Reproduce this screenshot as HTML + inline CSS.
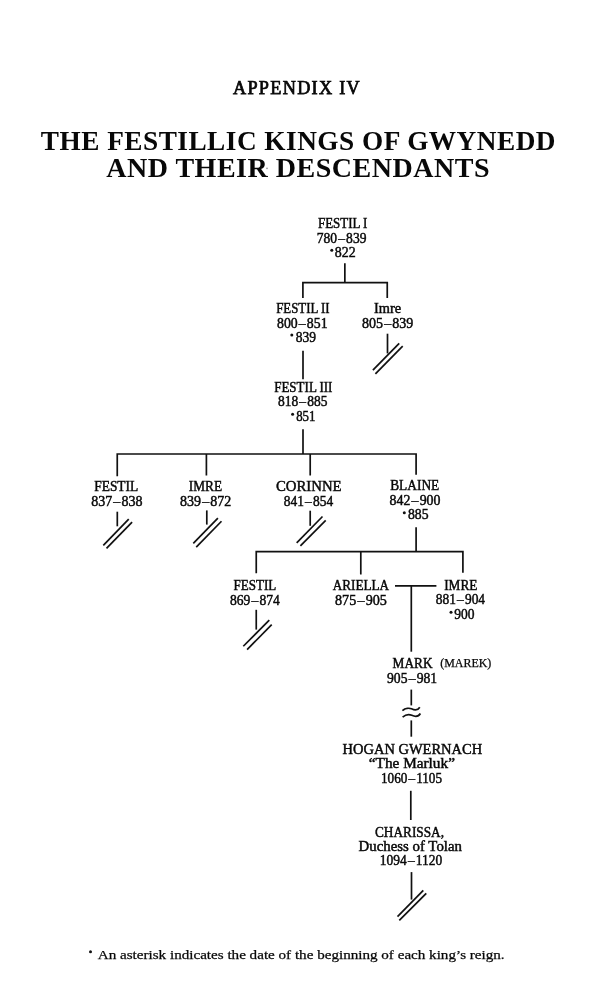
<!DOCTYPE html><html><head><meta charset="utf-8"><style>html,body{margin:0;padding:0;background:#fff;width:600px;height:992px;overflow:hidden}svg{display:block;will-change:transform}text{font-family:"Liberation Serif",serif;fill:#080808}.tr{stroke:#080808;stroke-width:0.4px}.td{stroke-width:0.45px}.tl{stroke:#080808;stroke-width:0.25px}.hd{letter-spacing:0.5px}.ap{stroke:#080808;stroke-width:0.75px;letter-spacing:1.3px}</style></head><body>
<svg width="600" height="992" viewBox="0 0 600 992">
<text id="t_app" class="hd ap" x="233.00" y="93.60" font-size="18.5" font-weight="normal" textLength="128.03" lengthAdjust="spacingAndGlyphs">APPENDIX IV</text>
<text id="t_h1" class="hd" x="40.80" y="150.00" font-size="28" font-weight="bold" textLength="515.23" lengthAdjust="spacingAndGlyphs">THE FESTILLIC KINGS OF GWYNEDD</text>
<text id="t_h2" class="hd" x="106.20" y="177.20" font-size="28" font-weight="bold" textLength="383.84" lengthAdjust="spacingAndGlyphs">AND THEIR DESCENDANTS</text>
<text id="n1a" class="tr td" x="318.00" y="228.00" font-size="14" font-weight="normal" textLength="49.37" lengthAdjust="spacingAndGlyphs">FESTIL I</text>
<text id="n1b" class="tr td" x="316.80" y="242.60" font-size="14" font-weight="normal" textLength="49.62" lengthAdjust="spacingAndGlyphs">780 – 839</text>
<text id="n1c" class="tr td" x="334.80" y="257.00" font-size="14" font-weight="normal" textLength="20.87" lengthAdjust="spacingAndGlyphs">822</text>
<text id="n2a" class="tr td" x="276.20" y="313.30" font-size="14" font-weight="normal" textLength="53.28" lengthAdjust="spacingAndGlyphs">FESTIL II</text>
<text id="n2b" class="tr td" x="277.00" y="327.50" font-size="14" font-weight="normal" textLength="50.54" lengthAdjust="spacingAndGlyphs">800 – 851</text>
<text id="n2c" class="tr td" x="295.80" y="341.70" font-size="14" font-weight="normal" textLength="20.30" lengthAdjust="spacingAndGlyphs">839</text>
<text id="n3a" class="tr td" x="374.00" y="313.00" font-size="14" font-weight="normal" textLength="27.16" lengthAdjust="spacingAndGlyphs">Imre</text>
<text id="n3b" class="tr td" x="362.00" y="327.60" font-size="14" font-weight="normal" textLength="51.36" lengthAdjust="spacingAndGlyphs">805 – 839</text>
<text id="n4a" class="tr td" x="274.20" y="391.70" font-size="14" font-weight="normal" textLength="58.26" lengthAdjust="spacingAndGlyphs">FESTIL III</text>
<text id="n4b" class="tr td" x="278.00" y="406.30" font-size="14" font-weight="normal" textLength="49.37" lengthAdjust="spacingAndGlyphs">818 – 885</text>
<text id="n4c" class="tr td" x="296.20" y="420.80" font-size="14" font-weight="normal" textLength="19.30" lengthAdjust="spacingAndGlyphs">851</text>
<text id="n5a" class="tr td" x="94.20" y="491.20" font-size="14" font-weight="normal" textLength="44.07" lengthAdjust="spacingAndGlyphs">FESTIL</text>
<text id="n5b" class="tr td" x="91.20" y="505.90" font-size="14" font-weight="normal" textLength="51.36" lengthAdjust="spacingAndGlyphs">837 – 838</text>
<text id="n6a" class="tr td" x="188.80" y="491.00" font-size="14" font-weight="normal" textLength="33.33" lengthAdjust="spacingAndGlyphs">IMRE</text>
<text id="n6b" class="tr td" x="180.00" y="506.00" font-size="14" font-weight="normal" textLength="51.36" lengthAdjust="spacingAndGlyphs">839 – 872</text>
<text id="n7a" class="tr td" x="276.00" y="491.00" font-size="14" font-weight="normal" textLength="65.64" lengthAdjust="spacingAndGlyphs">CORINNE</text>
<text id="n7b" class="tr td" x="283.80" y="506.00" font-size="14" font-weight="normal" textLength="49.31" lengthAdjust="spacingAndGlyphs">841 – 854</text>
<text id="n8a" class="tr td" x="390.20" y="490.40" font-size="14" font-weight="normal" textLength="49.03" lengthAdjust="spacingAndGlyphs">BLAINE</text>
<text id="n8b" class="tr td" x="389.60" y="504.70" font-size="14" font-weight="normal" textLength="50.85" lengthAdjust="spacingAndGlyphs">842 – 900</text>
<text id="n8c" class="tr td" x="408.00" y="519.30" font-size="14" font-weight="normal" textLength="20.58" lengthAdjust="spacingAndGlyphs">885</text>
<text id="n9a" class="tr td" x="233.60" y="590.40" font-size="14" font-weight="normal" textLength="42.73" lengthAdjust="spacingAndGlyphs">FESTIL</text>
<text id="n9b" class="tr td" x="230.00" y="605.00" font-size="14" font-weight="normal" textLength="49.78" lengthAdjust="spacingAndGlyphs">869 – 874</text>
<text id="n10a" class="tr td" x="332.80" y="590.00" font-size="14" font-weight="normal" textLength="56.32" lengthAdjust="spacingAndGlyphs">ARIELLA</text>
<text id="n10b" class="tr td" x="335.00" y="604.50" font-size="14" font-weight="normal" textLength="51.87" lengthAdjust="spacingAndGlyphs">875 – 905</text>
<text id="n11a" class="tr td" x="444.20" y="589.70" font-size="14" font-weight="normal" textLength="33.23" lengthAdjust="spacingAndGlyphs">IMRE</text>
<text id="n11b" class="tr td" x="435.80" y="604.20" font-size="14" font-weight="normal" textLength="49.29" lengthAdjust="spacingAndGlyphs">881 – 904</text>
<text id="n11c" class="tr td" x="454.20" y="618.70" font-size="14" font-weight="normal" textLength="20.25" lengthAdjust="spacingAndGlyphs">900</text>
<text id="n12a" class="tr td" x="392.60" y="668.00" font-size="14" font-weight="normal" textLength="39.98" lengthAdjust="spacingAndGlyphs">MARK</text>
<text id="n12x" class="tl" x="440.20" y="667.00" font-size="11.5" font-weight="normal" textLength="51.10" lengthAdjust="spacingAndGlyphs">(MAREK)</text>
<text id="n12b" class="tr td" x="387.00" y="683.00" font-size="14" font-weight="normal" textLength="50.15" lengthAdjust="spacingAndGlyphs">905 – 981</text>
<text id="n13a" class="tr td" x="342.60" y="754.00" font-size="14" font-weight="normal" textLength="139.51" lengthAdjust="spacingAndGlyphs">HOGAN GWERNACH</text>
<text id="n13b" class="tr td" x="368.80" y="768.30" font-size="14" font-weight="normal" textLength="86.15" lengthAdjust="spacingAndGlyphs">“The Marluk”</text>
<text id="n13c" class="tr td" x="381.00" y="782.70" font-size="14" font-weight="normal" textLength="61.02" lengthAdjust="spacingAndGlyphs">1060 – 1105</text>
<text id="n14a" class="tr td" x="375.00" y="836.70" font-size="14" font-weight="normal" textLength="69.02" lengthAdjust="spacingAndGlyphs">CHARISSA,</text>
<text id="n14b" class="tr td" x="358.60" y="850.50" font-size="14" font-weight="normal" textLength="103.33" lengthAdjust="spacingAndGlyphs">Duchess of Tolan</text>
<text id="n14c" class="tr td" x="379.80" y="865.20" font-size="14" font-weight="normal" textLength="62.44" lengthAdjust="spacingAndGlyphs">1094 – 1120</text>
<text id="foot" class="tl" x="97.80" y="958.70" font-size="13" font-weight="normal" textLength="406.84" lengthAdjust="spacingAndGlyphs">An asterisk indicates the date of the beginning of each king’s reign.</text>
<g stroke="#111" stroke-width="1.7" fill="none" stroke-linejoin="miter">
<path d="M344.85 263.3 V282.7"/>
<path d="M302.9 298 V282.7 H387.25 V298"/>
<path d="M387.5 333.7 V353.4"/>
<path d="M372.9 370.1 L399.2 343.4"/>
<path d="M375.4 373.8 L402.7 346.2"/>
<path d="M303 350.8 V379.2"/>
<path d="M303 429.2 V454"/>
<path d="M117.25 476.2 V454 H416.1 V474.8"/>
<path d="M206.4 454 V475.5"/>
<path d="M310.2 454 V475.5"/>
<path d="M117.3 511.7 V526.3"/>
<path d="M103.3 545.4 L128.75 519.2"/>
<path d="M106.5 548.3 L132.1 522.1"/>
<path d="M206.8 510.4 V524.6"/>
<path d="M193.3 543.3 L217.9 518.2"/>
<path d="M196.25 547.1 L221.5 521.25"/>
<path d="M310.2 510.7 V525.8"/>
<path d="M296.7 542.9 L322.5 516.5"/>
<path d="M300.4 545.8 L325.7 520.4"/>
<path d="M416.1 527.3 V551.7"/>
<path d="M256.25 573.25 V551.7 H462.9 V572.75"/>
<path d="M360.8 551.7 V574.5"/>
<path d="M256.25 609.8 V629.6"/>
<path d="M243.3 646.25 L269.3 620.2"/>
<path d="M247.1 649.6 L271.7 624.6"/>
<path d="M395 585.9 H436.4"/>
<path d="M411.3 585.9 V651.7"/>
<path d="M411.3 689.6 V705.4"/>
<path d="M411.3 720.4 V736.7"/>
<path d="M410.8 790.8 V820"/>
<path d="M411.5 872.1 V899.6"/>
<path d="M397.5 916.7 L423.3 890.4"/>
<path d="M399.3 920.4 L426.25 893.3"/>
<path d="M402.4 710.6 C405.5 708.0, 409.5 707.9, 411.5 708.8 C413.5 709.8, 417.5 711.0, 419.8 707.2"/>
<path d="M402.6 717.1 C405.7 714.5, 409.7 714.4, 411.8 715.3 C413.9 716.3, 418 717.5, 420.4 713.5"/>
</g>
<circle cx="331.8" cy="250.3" r="1.5" fill="#111"/>
<circle cx="291.8" cy="335" r="1.5" fill="#111"/>
<circle cx="292.6" cy="414.3" r="1.5" fill="#111"/>
<circle cx="404.3" cy="512.8" r="1.5" fill="#111"/>
<circle cx="451" cy="612.2" r="1.5" fill="#111"/>
<circle cx="90.5" cy="951.7" r="1.5" fill="#111"/>
<circle cx="267" cy="168.3" r="0.9" fill="#999"/>
</svg></body></html>
